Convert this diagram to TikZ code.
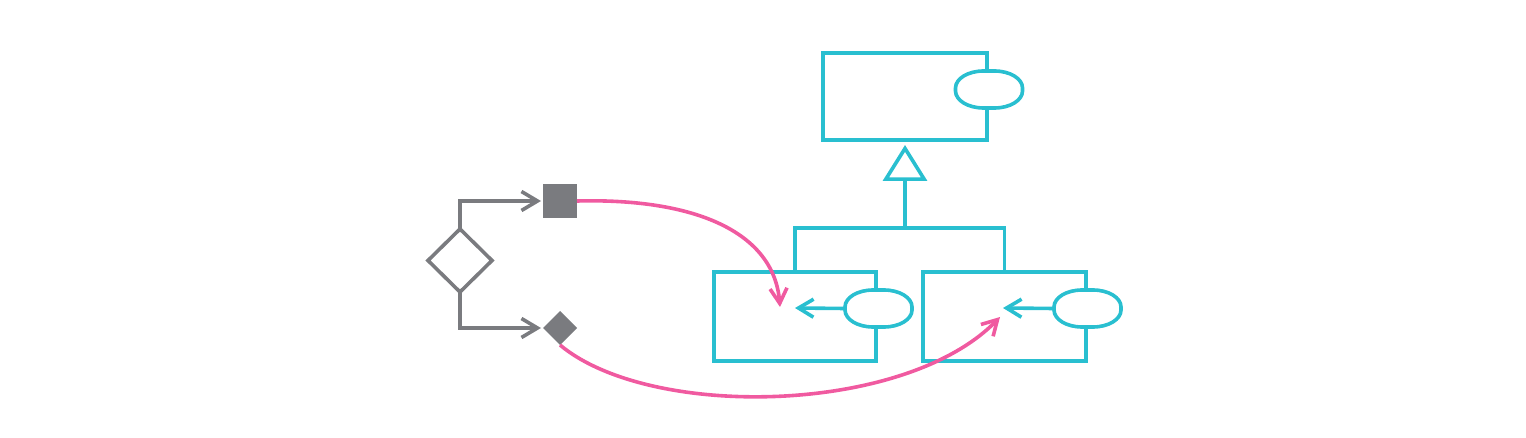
\documentclass[tikz,border=0pt]{standalone}
\usetikzlibrary{arrows.meta,shapes.geometric}
\definecolor{cgray}{RGB}{122,123,127}
\definecolor{ccyan}{RGB}{41,191,208}
\definecolor{cpink}{RGB}{240,90,160}
\newcommand{\drawport}[1]{%
  \draw[ccyan,fill=white]
    ([xshift=-28pt]#1.north east) arc[start angle=90,end angle=0,x radius=28pt,y radius=17pt]
    -- ([yshift=17pt]#1.south east) arc[start angle=0,end angle=-90,x radius=28pt,y radius=17pt]
    -- ([xshift=28pt]#1.south west) arc[start angle=270,end angle=180,x radius=28pt,y radius=17pt]
    -- ([yshift=-17pt]#1.north west) arc[start angle=180,end angle=90,x radius=28pt,y radius=17pt]
    -- cycle;}
\begin{document}
\begin{tikzpicture}[x=1pt,y=-1pt,line width=3.6pt,
  comp/.style={draw=ccyan,rectangle,inner sep=0pt,outer sep=0pt},
  port/.style={rectangle,minimum width=67pt,minimum height=37pt,inner sep=0pt,outer sep=0pt},
  carrow/.style={draw=ccyan,-{Straight Barb[length=15pt,width=18pt]}},
  garrow/.style={draw=cgray,-{Straight Barb[length=16pt,width=19pt]},shorten >=2pt},
  parrow/.style={draw=cpink,-{Straight Barb[length=15pt,width=17pt]}},
  gdia/.style={diamond,inner sep=0pt,outer sep=0pt},
]
\useasboundingbox (0,0) rectangle (1526,438);
% cyan components
\node[comp,minimum width=164pt,minimum height=87pt] (top) at (905,96.5) {};
\node[port] (topp) at (989,89.5) {};
\drawport{topp}
\node[comp,minimum width=162pt,minimum height=89pt] (c1) at (795,316.5) {};
\node[port] (p1) at (878.5,308.5) {};
\drawport{p1}
\node[comp,minimum width=163pt,minimum height=89pt] (c2) at (1004.5,316.5) {};
\node[port] (p2) at (1087.5,308.5) {};
\drawport{p2}
\coordinate (bar) at (905,228);
\draw[ccyan] (c1.north) |- (bar) -| (c2.north);
\draw[ccyan,-{Triangle[open,length=36pt,width=44pt]},shorten >=5pt] (bar) -- (top.south);
\coordinate (t1) at (795,308);
\coordinate (t2) at (1003,308);
\draw[carrow] (p1.west) -- (t1);
\draw[carrow] (p2.west) -- (t2);
% gray decision
\node[gdia,draw=cgray,minimum width=64pt,minimum height=63pt] (dec) at (460,260.5) {};
\node[rectangle,fill=cgray,minimum size=34pt,inner sep=0pt,outer sep=0pt] (sq) at (560,201) {};
\node[gdia,fill=cgray,minimum size=34pt] (sd) at (560,328) {};
\draw[garrow] (dec.north) |- (sq.west);
\draw[garrow] (dec.south) |- (sd.west);
% pink arrows
\coordinate (e1) at (780,307);
\coordinate (e2) at (1000,317);
\draw[parrow] (sq.east) .. controls (695,198) and (774,232) .. (e1);
\draw[parrow] (sd.south) .. controls (650,420) and (905,415) .. (e2);
\end{tikzpicture}
\end{document}
